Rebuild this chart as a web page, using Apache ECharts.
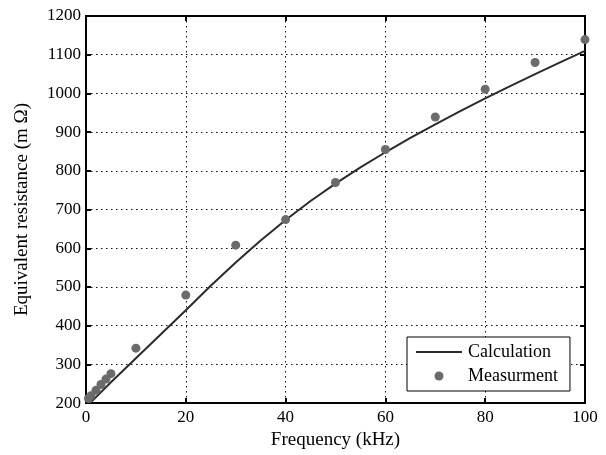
<!DOCTYPE html>
<html>
<head>
<meta charset="utf-8">
<script src="https://cdn.jsdelivr.net/npm/echarts@6/dist/echarts.min.js"></script>
<style>
  html, body { margin: 0; padding: 0; background: #fff; }
  #chart { width: 606px; height: 455px; }
</style>
</head>
<body>
<div id="chart"></div>
<script>
// calculated curve (kHz, mOhm)
const calcFreq = [0.8, 5, 10, 15, 20, 25, 30, 35, 40, 45, 50, 55, 60, 65, 70, 75, 80, 85, 90, 95, 100];
const calcRes = [200, 254, 316, 378, 440, 503, 563, 620, 673, 722, 767, 809, 848, 885, 920, 954, 987, 1019, 1050, 1080, 1110];

// measured points
const measFreq = [0.5, 1, 2, 3, 4, 5, 10, 20, 30, 40, 50, 60, 70, 80, 90, 100];
const measRes = [212, 219, 233, 248, 262, 276, 342, 479, 608, 674, 770, 855, 939, 1011, 1080, 1139];

const xTicks = [0, 20, 40, 60, 80, 100];
const yTicks = [200, 300, 400, 500, 600, 700, 800, 900, 1000, 1100, 1200];

const font = "'Liberation Serif', 'Times New Roman', serif";
const frameColor = "#000";

const chart = echarts.init(document.getElementById("chart"), null, { renderer: "canvas" });

const gridDots = {
  show: true,
  lineStyle: { type: [1.5, 3.5], color: "#111", width: 1 }
};

const option = {
  backgroundColor: "#fff",
  animation: false,
  grid: { left: 86, right: 21, top: 16, bottom: 48, containLabel: false },
  legend: {
    orient: "vertical",
    left: 407,
    top: 337,
    backgroundColor: "#fff",
    borderColor: "#000",
    borderWidth: 1,
    borderRadius: 0,
    padding: [5, 12, 5, 9],
    itemWidth: 46,
    itemHeight: 9,
    itemGap: 4,
    itemStyle: { borderWidth: 0 },
    textStyle: { fontFamily: font, fontSize: 18, color: "#000", lineHeight: 20, padding: [0, 0, 0, 1] },
    data: [
      { name: "Calculation", icon: "path://M0,0H46V2H0Z" },
      { name: "Measurment", icon: "circle" }
    ]
  },
  xAxis: [
    {
      type: "value",
      position: "bottom",
      min: xTicks[0],
      max: xTicks[xTicks.length - 1],
      interval: 20,
      name: "Frequency (kHz)",
      nameLocation: "middle",
      nameGap: 22,
      nameTextStyle: { fontFamily: font, fontSize: 19, color: "#000" },
      axisLine: { show: true, lineStyle: { color: frameColor, width: 2 } },
      axisTick: { show: true, inside: true, length: 5, lineStyle: { color: frameColor, width: 2 } },
      axisLabel: { fontFamily: font, fontSize: 17, color: "#000", margin: 6, formatter: (v) => String(v) },
      splitLine: gridDots
    },
    {
      type: "value",
      position: "top",
      min: xTicks[0],
      max: xTicks[xTicks.length - 1],
      interval: 20,
      axisLine: { show: true, onZero: false, lineStyle: { color: frameColor, width: 2 } },
      axisTick: { show: true, inside: true, length: 5, lineStyle: { color: frameColor, width: 2 } },
      axisLabel: { show: false },
      splitLine: { show: false }
    }
  ],
  yAxis: [
    {
      type: "value",
      position: "left",
      min: yTicks[0],
      max: yTicks[yTicks.length - 1],
      interval: 100,
      name: "Equivalent resistance (m \u03A9)",
      nameLocation: "middle",
      nameGap: 54,
      nameTextStyle: { fontFamily: font, fontSize: 19, color: "#000" },
      axisLine: { show: true, onZero: false, lineStyle: { color: frameColor, width: 2 } },
      axisTick: { show: true, inside: true, length: 5, lineStyle: { color: frameColor, width: 2 } },
      axisLabel: { fontFamily: font, fontSize: 17, color: "#000", margin: 5, formatter: (v) => String(v) },
      splitLine: gridDots
    },
    {
      type: "value",
      position: "right",
      min: yTicks[0],
      max: yTicks[yTicks.length - 1],
      interval: 100,
      axisLine: { show: true, onZero: false, lineStyle: { color: frameColor, width: 2 } },
      axisTick: { show: true, inside: true, length: 5, lineStyle: { color: frameColor, width: 2 } },
      axisLabel: { show: false },
      splitLine: { show: false }
    }
  ],
  series: [
    {
      name: "Calculation",
      type: "line",
      xAxisIndex: 0,
      yAxisIndex: 0,
      showSymbol: false,
      symbol: "none",
      smooth: false,
      color: "#2b2b2b",
      lineStyle: { color: "#2b2b2b", width: 2 },
      data: calcFreq.map((f, i) => [f, calcRes[i]]),
      z: 3
    },
    {
      name: "Measurment",
      type: "scatter",
      xAxisIndex: 0,
      yAxisIndex: 0,
      symbol: "circle",
      symbolSize: 9,
      color: "#6b6b6b",
      itemStyle: { color: "#6b6b6b", opacity: 1 },
      data: measFreq.map((f, i) => [f, measRes[i]]),
      z: 4
    }
  ]
};

chart.setOption(option);
</script>
</body>
</html>
